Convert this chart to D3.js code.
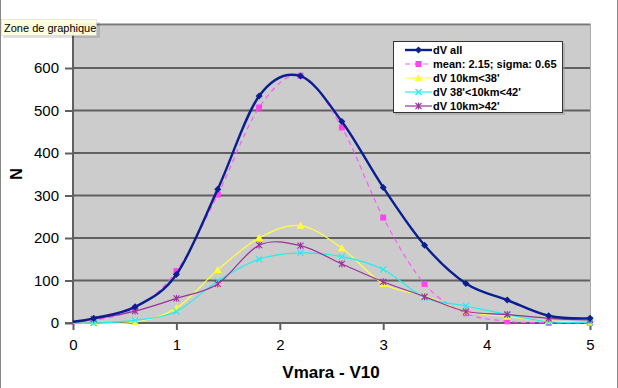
<!DOCTYPE html>
<html><head><meta charset="utf-8">
<script src="https://cdn.jsdelivr.net/npm/d3@7"></script>
<style>
html,body{margin:0;padding:0;background:#fff;}
svg{display:block;font-family:"Liberation Sans",Arial,sans-serif;}
</style></head>
<body><svg id="c" width="618" height="388"></svg>
<script>
const xValues = [0, 0.2, 0.6, 1.0, 1.4, 1.8, 2.2, 2.6, 3.0, 3.4, 3.8, 4.2, 4.6, 5.0];
const dvAll   = [3, 11, 38, 114, 315, 534, 581, 474, 319, 183, 93, 54, 17, 11];
const gaussFit = [1, 6, 34, 122, 302, 507, 582, 460, 248, 92, 23, 4, 0.5, 0];
const dvLt38  = [0, 0, 2, 35, 125, 200, 229, 176, 92, 64, 27, 15, 5, 1];
const dv38to42 = [0, 0, 6, 27, 99, 150, 165, 156, 126, 60, 40, 20, 3, 2];
const dvGt42  = [2, 9, 28, 58, 92, 183, 182, 139, 97, 62, 27, 20, 11, 7];
const seriesNames = ["dV all", "mean: 2.15; sigma: 0.65", "dV 10km<38'", "dV 38'<10km<42'", "dV 10km>42'"];
const xTicks = [0, 1, 2, 3, 4, 5];
const yTicks = [0, 100, 200, 300, 400, 500, 600, 700];

const svg = d3.select("#c");
const W = 618, H = 388;
const L = 73, R = 590, T = 25.5, B = 323;
const x = d3.scaleLinear().domain([0, 5]).range([L, R]);
const y = d3.scaleLinear().domain([0, 700]).range([B, T]);

// outer frame
svg.append("line").attr("x1",0.5).attr("x2",0.5).attr("y1",0).attr("y2",H).attr("stroke","#888").attr("stroke-width",1);
svg.append("line").attr("x1",617.5).attr("x2",617.5).attr("y1",0).attr("y2",H).attr("stroke","#888").attr("stroke-width",1);

// plot area
svg.append("rect").attr("x",L).attr("y",T).attr("width",R-L).attr("height",B-T).attr("fill","#cccccc");
svg.append("line").attr("x1",L).attr("x2",R).attr("y1",T-1).attr("y2",T-1).attr("stroke","#777").attr("stroke-width",2);
svg.append("line").attr("x1",R+0.5).attr("x2",R+0.5).attr("y1",T-2).attr("y2",B).attr("stroke","#aaa").attr("stroke-width",1);

// gridlines
svg.append("g").selectAll("line").data(yTicks.filter(d=>d>0 && d<700)).join("line")
  .attr("x1",L).attr("x2",R).attr("y1",d=>y(d)).attr("y2",d=>y(d))
  .attr("stroke","#606060").attr("stroke-width",2);

// axes
const yAxis = d3.axisLeft(y).tickValues(yTicks).tickSize(8).tickPadding(6).tickFormat(d3.format("d"));
const gy = svg.append("g").attr("transform",`translate(${L},0)`).call(yAxis);
gy.select(".domain").remove();
gy.selectAll(".tick line").attr("stroke","#606060").attr("stroke-width",2);
gy.selectAll("text").attr("font-size",15).attr("fill","#000").attr("font-family","Liberation Sans, Arial, sans-serif");
gy.selectAll(".tick").filter(d=>d===700).select("text").attr("fill","#bbb");
svg.append("line").attr("x1",L).attr("x2",L).attr("y1",T-2).attr("y2",B+1).attr("stroke","#606060").attr("stroke-width",2);

const xAxis = d3.axisBottom(x).tickValues(xTicks).tickSize(7).tickPadding(9).tickFormat(d3.format("d"));
const gx = svg.append("g").attr("transform",`translate(0,${B})`).call(xAxis);
gx.select(".domain").remove();
gx.selectAll(".tick line").attr("stroke","#606060").attr("stroke-width",2);
gx.selectAll("text").attr("font-size",15).attr("fill","#000").attr("font-family","Liberation Sans, Arial, sans-serif");
svg.append("line").attr("x1",L-8).attr("x2",R+1).attr("y1",B).attr("y2",B).attr("stroke","#606060").attr("stroke-width",2);

// axis titles
svg.append("text").attr("x",331).attr("y",378).attr("text-anchor","middle")
  .attr("font-size",17).attr("font-weight","bold").text("Vmara - V10");
svg.append("text").attr("transform","translate(22,174) rotate(-90)").attr("text-anchor","middle")
  .attr("font-size",16).attr("font-weight","bold").text("N");

// series
const series = [
  {name: seriesNames[1], vals: gaussFit, color:"#ff55ff", width:1.2, dash:"5,4", marker:"square"},
  {name: seriesNames[2], vals: dvLt38, color:"#ffff44", width:1.2, dash:null, marker:"triangle"},
  {name: seriesNames[3], vals: dv38to42, color:"#22eeee", width:1.2, dash:null, marker:"x"},
  {name: seriesNames[4], vals: dvGt42, color:"#993399", width:1.2, dash:null, marker:"star"},
  {name: seriesNames[0], vals: dvAll, color:"#0a1f8f", width:2.4, dash:null, marker:"diamond"}
];
const line = d3.line().x(d=>x(d[0])).y(d=>y(d[1])).curve(d3.curveCatmullRom.alpha(0));

function drawMarker(g, type, cx, cy, color) {
  if (type==="diamond") {
    g.append("path").attr("d",`M${cx},${cy-3.5}L${cx+3.5},${cy}L${cx},${cy+3.5}L${cx-3.5},${cy}Z`).attr("fill",color);
  } else if (type==="square") {
    g.append("rect").attr("x",cx-3).attr("y",cy-3).attr("width",6).attr("height",6).attr("fill","#ff44ee");
  } else if (type==="triangle") {
    g.append("path").attr("d",`M${cx},${cy-4}L${cx+4},${cy+3}L${cx-4},${cy+3}Z`).attr("fill","#ffff33");
  } else if (type==="x") {
    g.append("path").attr("d",`M${cx-3},${cy-3}L${cx+3},${cy+3}M${cx-3},${cy+3}L${cx+3},${cy-3}`).attr("stroke",color).attr("stroke-width",1.2);
  } else if (type==="star") {
    g.append("path").attr("d",`M${cx-3},${cy-3}L${cx+3},${cy+3}M${cx-3},${cy+3}L${cx+3},${cy-3}M${cx},${cy-3.5}L${cx},${cy+3.5}`).attr("stroke",color).attr("stroke-width",1.1);
  }
}

const gs = svg.append("g");
series.forEach(s => {
  const pts = xValues.map((xv,i)=>[xv, s.vals[i]]);
  gs.append("path").datum(pts).attr("d",line).attr("fill","none")
    .attr("stroke",s.color).attr("stroke-width",s.width)
    .attr("stroke-dasharray",s.dash);
  const mg = gs.append("g");
  pts.slice(1).forEach(p => drawMarker(mg, s.marker, x(p[0]), y(p[1]), s.color));
});

// legend
const lg = svg.append("g");
lg.append("rect").attr("x",395).attr("y",43).attr("width",170).attr("height",72).attr("fill","#999").attr("opacity",0.5);
lg.append("rect").attr("x",393.5).attr("y",41.5).attr("width",169).attr("height",71).attr("fill","#fff").attr("stroke","#333").attr("stroke-width",1);
const legendOrder = [series[4], series[0], series[1], series[2], series[3]];
legendOrder.forEach((s,i) => {
  const ly = 50 + i*14;
  lg.append("line").attr("x1",405).attr("x2",432).attr("y1",ly).attr("y2",ly)
    .attr("stroke",s.color).attr("stroke-width",s.width).attr("stroke-dasharray",s.dash);
  drawMarker(lg, s.marker, 418.5, ly, s.color);
  lg.append("text").attr("x",433).attr("y",ly+4).attr("font-size",11).attr("font-weight","bold").text(s.name);
});

// tooltip
const tt = svg.append("g");
tt.append("rect").attr("x",3).attr("y",22).attr("width",97).attr("height",16).attr("fill","#000").attr("opacity",0.12);
tt.append("rect").attr("x",1.5).attr("y",19.5).attr("width",95).attr("height",16).attr("fill","#ffffe0").attr("opacity",0.92).attr("stroke","#ccc").attr("stroke-width",0.5);
tt.append("text").attr("x",4).attr("y",31.5).attr("font-size",11).attr("fill","#000").text("Zone de graphique");
</script></body></html>
